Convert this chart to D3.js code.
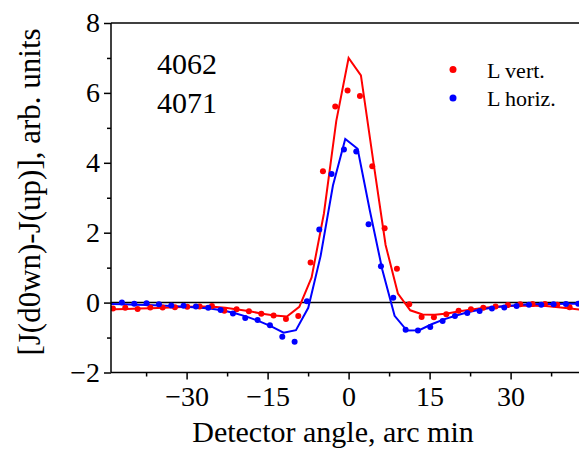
<!DOCTYPE html>
<html>
<head>
<meta charset="utf-8">
<script src="https://cdn.jsdelivr.net/npm/d3@7/dist/d3.min.js"></script>
<style>
  html, body { margin: 0; padding: 0; background: #fff; }
  svg { display: block; }
  svg text { font-family: "Liberation Serif", Tinos, "Times New Roman", Times, "DejaVu Serif", serif !important; fill: #000; }
</style>
</head>
<body>
<svg id="chart" width="579" height="458"></svg>
<script>
// ---- Data ----
const xTickValues = [-30, -15, 0, 15, 30];
const yTickValues = [-2, 0, 2, 4, 6, 8];

// Measured points, L vert. (red)
const vertX = [-43.64, -41.36, -39.07, -36.73, -34.44, -32.16, -29.88, -27.59, -25.31, -23.02,
               -20.74, -18.46, -16.17, -13.89, -11.60, -9.32, -7.04, -4.75, -2.47, -0.19,
               2.10, 4.38, 6.67, 8.95, 11.23, 13.52, 15.80, 18.09, 20.37, 22.65,
               24.94, 27.22, 29.51, 31.79, 34.07, 36.36, 38.64, 40.93];
const vertY = [-0.17, -0.15, -0.18, -0.14, -0.14, -0.13, -0.12, -0.11, -0.10, -0.23,
               -0.19, -0.25, -0.32, -0.37, -0.47, -0.38, 1.15, 3.76, 5.61, 6.07,
               5.91, 3.90, 2.13, 0.97, -0.05, -0.41, -0.42, -0.33, -0.23, -0.19,
               -0.15, -0.11, -0.07, -0.05, -0.04, -0.04, -0.06, -0.13];

// Measured points, L horiz. (blue)
const horizX = [-41.98, -39.69, -37.41, -35.12, -32.84, -30.56, -28.27, -25.99, -23.70, -21.42,
                -19.14, -16.85, -14.57, -12.28, -10.00, -7.72, -5.43, -3.15, -0.86, 1.42,
                3.70, 5.99, 8.27, 10.56, 12.84, 15.12, 17.41, 19.69, 21.98, 24.26,
                26.54, 28.83, 31.11, 33.40, 35.68, 37.96, 40.25, 42.53];
const horizY = [0.00, -0.03, -0.02, -0.05, -0.08, -0.09, -0.11, -0.15, -0.21, -0.31,
                -0.44, -0.50, -0.65, -0.98, -1.12, 0.04, 2.09, 3.68, 4.38, 4.32,
                2.24, 1.04, 0.14, -0.78, -0.80, -0.70, -0.53, -0.38, -0.30, -0.24,
                -0.17, -0.14, -0.10, -0.06, -0.06, -0.05, -0.04, -0.03];

// Calculated curve, L vert. (red line)
const vertFitX = [-45.66, -43.38, -41.10, -38.82, -36.53, -34.25, -31.97, -29.68, -27.40, -25.12,
                  -22.83, -20.55, -18.27, -15.98, -13.70, -11.42, -9.13, -6.85, -4.57, -2.28,
                  0.00, 2.28, 4.57, 6.85, 9.13, 11.42, 13.70, 15.98, 18.27, 20.55,
                  22.83, 25.12, 27.40, 29.68, 31.97, 34.25, 36.53, 38.82, 41.10, 43.38, 45.66];
const vertFitY = [-0.20, -0.19, -0.18, -0.17, -0.16, -0.15, -0.13, -0.12, -0.11, -0.12,
                  -0.15, -0.20, -0.25, -0.32, -0.37, -0.40, -0.12, 0.72, 2.55, 5.20,
                  7.00, 6.50, 4.05, 1.65, 0.26, -0.22, -0.34, -0.35, -0.31, -0.25,
                  -0.20, -0.15, -0.12, -0.10, -0.09, -0.09, -0.10, -0.13, -0.17, -0.21, -0.24];

// Calculated curve, L horiz. (blue line)
const horizFitX = [-46.28, -44.00, -41.72, -39.44, -37.15, -34.87, -32.59, -30.30, -28.02, -25.74,
                   -23.45, -21.17, -18.89, -16.60, -14.32, -12.04, -9.75, -7.47, -5.19, -2.90,
                   -0.62, 1.67, 3.95, 6.23, 8.52, 10.80, 13.08, 15.37, 17.65, 19.93,
                   22.22, 24.50, 26.78, 29.07, 31.35, 33.63, 35.92, 38.20, 40.48, 42.77, 45.05];
const horizFitY = [-0.04, -0.04, -0.05, -0.06, -0.07, -0.08, -0.10, -0.12, -0.14, -0.17,
                   -0.22, -0.30, -0.40, -0.53, -0.68, -0.86, -0.79, -0.15, 1.33, 3.35,
                   4.68, 4.40, 2.62, 0.95, -0.38, -0.80, -0.79, -0.62, -0.48, -0.37,
                   -0.27, -0.20, -0.14, -0.10, -0.07, -0.05, -0.04, -0.04, -0.03, -0.03, -0.03];

const seriesNames = ["L vert.", "L horiz."];
const seriesColors = ["#ff0000", "#0000ff"];
const sampleLabels = ["4062", "4071"];

// ---- Layout ----
const svg = d3.select("#chart");
const pL = 111, pR = 586.2, pT = 23, pB = 372.5;
const x = d3.scaleLinear().domain([-44, 44]).range([pL, pR]);
const y = d3.scaleLinear().domain([-2, 8]).range([pB, pT]);

svg.append("defs").append("clipPath").attr("id", "plotclip")
  .append("rect").attr("x", pL).attr("y", pT).attr("width", pR - pL).attr("height", pB - pT);

// zero line
svg.append("line")
  .attr("x1", pL).attr("x2", pR).attr("y1", y(0)).attr("y2", y(0))
  .attr("stroke", "#000").attr("stroke-width", 1.5);

const plot = svg.append("g").attr("clip-path", "url(#plotclip)");
const line = d3.line().x(d => x(d[0])).y(d => y(d[1]));

plot.append("path").datum(d3.zip(vertFitX, vertFitY))
  .attr("d", line).attr("fill", "none").attr("stroke", seriesColors[0]).attr("stroke-width", 2);
plot.append("path").datum(d3.zip(horizFitX, horizFitY))
  .attr("d", line).attr("fill", "none").attr("stroke", seriesColors[1]).attr("stroke-width", 2);

plot.append("g").selectAll("circle").data(d3.zip(vertX, vertY)).join("circle")
  .attr("cx", d => x(d[0])).attr("cy", d => y(d[1])).attr("r", 3).attr("fill", seriesColors[0]);
plot.append("g").selectAll("circle").data(d3.zip(horizX, horizY)).join("circle")
  .attr("cx", d => x(d[0])).attr("cy", d => y(d[1])).attr("r", 3).attr("fill", seriesColors[1]);

// axes
const serif = '"Liberation Serif", Tinos, "Times New Roman", Times, "DejaVu Serif", serif';
const xAxis = d3.axisBottom(x).tickValues(xTickValues).tickSize(7).tickPadding(6).tickFormat(d3.format("d"));
const gx = svg.append("g").attr("transform", `translate(0,${pB})`).call(xAxis).attr("font-family", serif);
gx.select(".domain").remove();
gx.selectAll(".tick line").attr("stroke", "#000").attr("stroke-width", 1.5);
gx.selectAll(".tick text").attr("font-size", 28).attr("dy", "0.72em");

const xMinor = d3.axisBottom(x).tickValues([-37.5, -22.5, -7.5, 7.5, 22.5, 37.5]).tickSize(4).tickFormat("");
const gxm = svg.append("g").attr("transform", `translate(0,${pB})`).call(xMinor);
gxm.select(".domain").remove();
gxm.selectAll(".tick line").attr("stroke", "#000").attr("stroke-width", 1.5);

const yAxis = d3.axisLeft(y).tickValues(yTickValues).tickSize(7).tickPadding(4).tickFormat(d3.format("d"));
const gy = svg.append("g").attr("transform", `translate(${pL},0)`).call(yAxis).attr("font-family", serif);
gy.select(".domain").remove();
gy.selectAll(".tick line").attr("stroke", "#000").attr("stroke-width", 1.5);
gy.selectAll(".tick text").attr("font-size", 28);

const yMinor = d3.axisLeft(y).tickValues([-1, 1, 3, 5, 7]).tickSize(4).tickFormat("");
const gym = svg.append("g").attr("transform", `translate(${pL},0)`).call(yMinor);
gym.select(".domain").remove();
gym.selectAll(".tick line").attr("stroke", "#000").attr("stroke-width", 1.5);

// frame: left and bottom axis lines, top border
svg.append("line").attr("x1", pL).attr("x2", pL).attr("y1", pT).attr("y2", pB)
  .attr("stroke", "#000").attr("stroke-width", 1.5);
svg.append("line").attr("x1", pL).attr("x2", pR).attr("y1", pB).attr("y2", pB)
  .attr("stroke", "#000").attr("stroke-width", 1.5);
svg.append("line").attr("x1", pL).attr("x2", pR).attr("y1", pT).attr("y2", pT)
  .attr("stroke", "#000").attr("stroke-width", 1.5);

// axis titles
svg.append("text").attr("x", 333).attr("y", 442).attr("text-anchor", "middle")
  .attr("font-family", serif).attr("font-size", 30).text("Detector angle, arc min");
svg.append("text").attr("transform", "translate(40,192) rotate(-90)").attr("text-anchor", "middle")
  .attr("font-family", serif).attr("font-size", 31).text("[J(d0wn)-J(up)], arb. units");

// sample labels
svg.append("g").attr("font-family", serif).selectAll("text").data(sampleLabels).join("text")
  .attr("x", 157).attr("y", (d, i) => 74 + i * 39).attr("font-size", 30).text(d => d);

// legend
const lg = svg.append("g").attr("font-family", serif).selectAll("g").data(seriesNames).join("g")
  .attr("transform", (d, i) => `translate(0,${69.5 + i * 28.5})`);
lg.append("circle").attr("cx", 453).attr("cy", 0).attr("r", 3.5).attr("fill", (d, i) => seriesColors[i]);
lg.append("text").attr("x", 487).attr("y", 8).attr("font-size", 22).text(d => d);
</script>
</body>
</html>
